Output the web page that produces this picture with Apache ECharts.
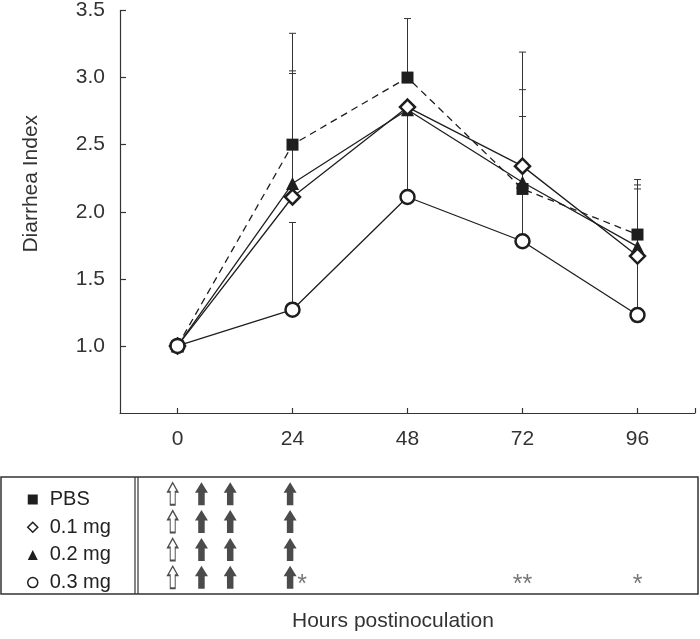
<!DOCTYPE html>
<html>
<head>
<meta charset="utf-8">
<script src="https://cdn.jsdelivr.net/npm/echarts@6/dist/echarts.min.js"></script>
<style>
html,body{margin:0;padding:0;background:#fff;}
#chart{width:700px;height:639px;}
</style>
</head>
<body>
<div id="chart"></div>
<script>
// ---- data ----
const hours = [0, 24, 48, 72, 96];
const groupNames = ['PBS', '0.1 mg', '0.2 mg', '0.3 mg'];
const pbs  = [1.00, 2.50, 3.00, 2.17, 1.83];
const mg01 = [1.00, 2.11, 2.78, 2.34, 1.67];
const mg02 = [1.00, 2.21, 2.76, 2.22, 1.74];
const mg03 = [1.00, 1.27, 2.11, 1.78, 1.23];
// upper ends of error bars (SD)
const pbsUpper  = [null, 3.33, 3.44, 3.19, 2.24];
const mg01Upper = [null, 3.03, null, 2.91, 2.17];
const mg02Upper = [null, 3.05, null, 2.71, 2.20];
const mg03Upper = [null, 1.92, 2.80, 2.20, 1.65];
const yTicks = [1.0, 1.5, 2.0, 2.5, 3.0, 3.5];
const xTicks = [0, 24, 48, 72, 96, 108];
// treatment schedule (hours) per group row
const inoculationHours = [-1];
const treatmentHours = [5, 11, 23.5];
const sigHours = [26, 72, 96];
const sigMarks = ['*', '**', '*'];
const sigRow = 4;

// ---- build ----
const ink = '#1e1e1e';
const means = [pbs, mg01, mg02, mg03];
const uppers = [pbsUpper, mg01Upper, mg02Upper, mg03Upper];
const errData = [];
means.forEach((arr, g) => {
  hours.forEach((h, i) => {
    if (uppers[g][i] != null) errData.push([h, arr[i], uppers[g][i]]);
  });
});
const arrowOpen = [], arrowFilled = [];
groupNames.forEach((n, r) => {
  inoculationHours.forEach(h => arrowOpen.push([h, r + 1]));
  treatmentHours.forEach(h => arrowFilled.push([h, r + 1]));
});
const sigData = sigHours.map((h, i) => ({value: [h, sigRow], mark: sigMarks[i]}));

const filledArrow = 'path://M6,0 L12,10 L9,10 L9,22 L3,22 L3,10 L0,10 Z';
const openArrow = 'path://M5,0 L10,9 L7.5,9 L7.5,22 L2.5,22 L2.5,9 L0,9 Z';

const font = 'Liberation Sans, Arial, sans-serif';

const chart = echarts.init(document.getElementById('chart'), null, {renderer: 'canvas'});
const option = {
  animation: false,
  backgroundColor: '#fff',
  textStyle: {fontFamily: font},
  grid: [
    {left: 120, top: 7, width: 575, height: 406},
    {left: 120, top: 477, width: 575, height: 117}
  ],
  legend: {
    orient: 'vertical',
    left: 22,
    top: 484,
    itemWidth: 10,
    itemHeight: 10,
    itemGap: 6.7,
    textStyle: {fontFamily: font, fontSize: 20, color: '#222', lineHeight: 21, padding: [0, 0, 0, 7]},
    selectedMode: false,
    data: [
      {name: 'PBS', icon: 'rect', itemStyle: {color: ink, borderWidth: 0}},
      {name: '0.1 mg', icon: 'diamond', itemStyle: {color: '#fff', borderColor: ink, borderWidth: 1.5}},
      {name: '0.2 mg', icon: 'triangle', itemStyle: {color: ink, borderWidth: 0}},
      {name: '0.3 mg', icon: 'circle', itemStyle: {color: '#fff', borderColor: ink, borderWidth: 1.5}}
    ]
  },
  xAxis: [
    {
      gridIndex: 0, type: 'value', min: -12, max: 108, interval: 24,
      axisLine: {onZero: false, lineStyle: {color: '#333', width: 1.2}},
      axisTick: {inside: true, length: 5, lineStyle: {color: '#333', width: 1.2}, customValues: xTicks},
      axisLabel: {fontSize: 21, color: '#333', margin: 16, fontFamily: font,
        customValues: hours},
      splitLine: {show: false},
      name: 'Hours postinoculation',
      nameLocation: 'middle',
      nameGap: 198,
      nameTextStyle: {fontSize: 21, color: '#333', fontFamily: font, padding: [0, 29, 0, 0]}
    },
    {gridIndex: 1, type: 'value', min: -12, max: 108, show: false}
  ],
  yAxis: [
    {
      gridIndex: 0, type: 'value', min: 0.5, max: 3.5, interval: 0.5,
      axisLine: {show: true, onZero: false, lineStyle: {color: '#333', width: 1.2}},
      axisTick: {inside: true, length: 6, lineStyle: {color: '#333', width: 1.2}, customValues: yTicks},
      axisLabel: {fontSize: 21, color: '#333', margin: 15, fontFamily: font,
        customValues: yTicks,
        formatter: v => v.toFixed(1)},
      splitLine: {show: false},
      name: 'Diarrhea Index',
      nameLocation: 'middle',
      nameGap: 78,
      nameTextStyle: {fontSize: 21, color: '#333', fontFamily: font, padding: [0, 0, 0, 56]}
    },
    {gridIndex: 1, type: 'value', min: 0.4, max: 4.6, inverse: true, show: false}
  ],
  graphic: [
    {type: 'rect', shape: {x: 1, y: 477, width: 697, height: 117},
      style: {fill: 'none', stroke: '#333', lineWidth: 1.5}, silent: true},
    {type: 'line', shape: {x1: 135, y1: 477, x2: 135, y2: 594},
      style: {stroke: '#333', lineWidth: 1.2}, silent: true},
    {type: 'line', shape: {x1: 138, y1: 477, x2: 138, y2: 594},
      style: {stroke: '#333', lineWidth: 1.2}, silent: true}
  ],
  series: [
    {
      type: 'custom', name: 'SD', xAxisIndex: 0, yAxisIndex: 0, z: 1,
      data: errData,
      encode: {x: 0, y: [1, 2]},
      renderItem: function (params, api) {
        const x = api.value(0), m = api.value(1), u = api.value(2);
        const p0 = api.coord([x, m]), p1 = api.coord([x, u]);
        const hw = 3.5;
        return {type: 'group', children: [
          {type: 'line', shape: {x1: p0[0], y1: p0[1], x2: p1[0], y2: p1[1]}, style: {stroke: '#333', lineWidth: 1}},
          {type: 'line', shape: {x1: p1[0] - hw, y1: p1[1], x2: p1[0] + hw, y2: p1[1]}, style: {stroke: '#333', lineWidth: 1}}
        ]};
      }
    },
    {
      type: 'line', name: 'PBS', z: 2,
      data: hours.map((h, i) => [h, pbs[i]]),
      symbol: 'rect', symbolSize: 12,
      itemStyle: {color: ink},
      lineStyle: {color: ink, width: 1.3, type: [7, 5]}
    },
    {
      type: 'line', name: '0.2 mg', z: 3,
      data: hours.map((h, i) => [h, mg02[i]]),
      symbol: 'triangle', symbolSize: 13,
      itemStyle: {color: ink},
      lineStyle: {color: ink, width: 1.3}
    },
    {
      type: 'line', name: '0.1 mg', z: 4,
      data: hours.map((h, i) => [h, mg01[i]]),
      symbol: 'diamond', symbolSize: 15,
      itemStyle: {color: '#fff', borderColor: ink, borderWidth: 2.5},
      lineStyle: {color: ink, width: 1.3}
    },
    {
      type: 'line', name: '0.3 mg', z: 5,
      data: hours.map((h, i) => [h, mg03[i]]),
      symbol: 'circle', symbolSize: 14,
      itemStyle: {color: '#fff', borderColor: ink, borderWidth: 2.5},
      lineStyle: {color: ink, width: 1.3}
    },
    {
      type: 'scatter', name: 'inoculation', xAxisIndex: 1, yAxisIndex: 1,
      data: arrowOpen, symbol: openArrow, symbolSize: [10, 22],
      itemStyle: {color: '#fff', borderColor: ink, borderWidth: 1.4}
    },
    {
      type: 'scatter', name: 'treatment', xAxisIndex: 1, yAxisIndex: 1,
      data: arrowFilled, symbol: filledArrow, symbolSize: [13, 23],
      itemStyle: {color: ink}
    },
    {
      type: 'scatter', name: 'significance', xAxisIndex: 1, yAxisIndex: 1,
      data: sigData, symbolSize: 0,
      label: {show: true, position: 'inside', offset: [0, 8],
        formatter: p => p.data.mark,
        fontSize: 25, color: '#555', fontFamily: font}
    }
  ]
};
chart.setOption(option);
</script>
</body>
</html>
